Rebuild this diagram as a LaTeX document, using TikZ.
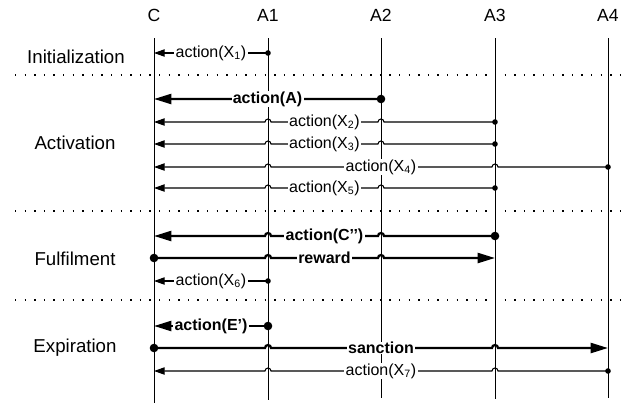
\documentclass[tikz,border=0pt]{standalone}
\usepackage{fontspec}
\setmainfont{Liberation Sans}
\usetikzlibrary{arrows.meta,calc}

\tikzset{
  actor/.style={font=\fontsize{13.2}{15}\selectfont},
  stage/.style={font=\fontsize{14}{16}\selectfont},
  lifeline/.style={line width=0.75pt},
  phase/.style={line width=1pt, dash pattern=on 1pt off 6.2pt},
  thinmsg/.style={line width=0.8pt, -{Triangle[length=8pt,width=5.5pt]}},
  thickmsg/.style={line width=1.7pt, -{Triangle[length=13pt,width=7.5pt]}},
  lbl/.style={fill=white, inner xsep=1pt, inner ysep=0.4pt, font=\fontsize{12}{13}\selectfont},
  boldlbl/.style={lbl, font=\fontsize{12}{13}\selectfont\bfseries},
}

\begin{document}
\begin{tikzpicture}[x=0.75pt,y=-0.75pt]
\useasboundingbox (0,0) rectangle (624,404);

% actors and phases
\node[actor] (C) at (154,15) {C};
\node[actor] (A1) at (268,15) {A1};
\node[actor] (A2) at (381,15) {A2};
\node[actor] (A3) at (495,15) {A3};
\node[actor] (A4) at (608,15) {A4};
\node[stage] (init) at (76,57) {Initialization};
\node[stage] (act) at (75,143) {Activation};
\node[stage] (ful) at (75,259) {Fulfilment};
\node[stage] (exp) at (75,348) {Expiration};

\foreach \y in {75,211,300} \draw[phase] (15,\y) -- (622,\y);
\foreach \a/\e in {C/403,A1/400,A2/398,A3/399,A4/398}
  \draw[lifeline] (\a |- 0,38) -- (\a |- 0,\e);

% message rows
\coordinate (m1) at (0,53);
\coordinate (mA) at (0,99);
\coordinate (m2) at (0,122);
\coordinate (m3) at (0,144);
\coordinate (m4) at (0,167);
\coordinate (m5) at (0,188);
\coordinate (mC) at (0,236);
\coordinate (mR) at (0,258);
\coordinate (m6) at (0,281);
\coordinate (mE) at (0,326);
\coordinate (mS) at (0,348);
\coordinate (m7) at (0,371);

% initialization
\draw[thinmsg] (A1 |- m1) -- (C |- m1);
\fill (A1 |- m1) circle (2.8);
\path (A1 |- m1) -- (C |- m1) node[lbl,midway] {action(X\textsubscript{1})};

% activation
\draw[thickmsg] (A2 |- mA) -- ($(A1 |- mA)+(3,0)$) arc[start angle=0,end angle=-180,radius=3] -- (C |- mA);
\fill (A2 |- mA) circle (4.3);
\path (A2 |- mA) -- (C |- mA) node[boldlbl,midway] {action(A)};

\foreach \m/\s/\n in {m2/A3/2,m3/A3/3,m5/A3/5} {
  \draw[thinmsg] (\s |- \m) \foreach \h in {A2,A1} { -- ($(\h |- \m)+(3,0)$) arc[start angle=0,end angle=-180,radius=3] } -- (C |- \m);
  \fill (\s |- \m) circle (2.8);
  \path (\s |- \m) -- (C |- \m) node[lbl,midway] {action(X\textsubscript{\n})};
}
\draw[thinmsg] (A4 |- m4) \foreach \h in {A3,A2,A1} { -- ($(\h |- m4)+(3,0)$) arc[start angle=0,end angle=-180,radius=3] } -- (C |- m4);
\fill (A4 |- m4) circle (2.8);
\path (A4 |- m4) -- (C |- m4) node[lbl,midway] {action(X\textsubscript{4})};

% fulfilment
\draw[thickmsg] (A3 |- mC) \foreach \h in {A2,A1} { -- ($(\h |- mC)+(3,0)$) arc[start angle=0,end angle=-180,radius=3] } -- (C |- mC);
\fill (A3 |- mC) circle (4.3);
\path (A3 |- mC) -- (C |- mC) node[boldlbl,midway] {action(C’’)};

\draw[thickmsg] (C |- mR) \foreach \h in {A1,A2} { -- ($(\h |- mR)+(-3,0)$) arc[start angle=180,end angle=360,radius=3] } -- (A3 |- mR);
\fill (C |- mR) circle (4.3);
\path (C |- mR) -- (A3 |- mR) node[boldlbl,midway] {reward};

\draw[thinmsg] (A1 |- m6) -- (C |- m6);
\fill (A1 |- m6) circle (2.8);
\path (A1 |- m6) -- (C |- m6) node[lbl,midway] {action(X\textsubscript{6})};

% expiration
\draw[thickmsg] (A1 |- mE) -- (C |- mE);
\fill (A1 |- mE) circle (4.3);
\path (A1 |- mE) -- (C |- mE) node[boldlbl,midway] {action(E’)};

\draw[thickmsg] (C |- mS) \foreach \h in {A1,A2,A3} { -- ($(\h |- mS)+(-3,0)$) arc[start angle=180,end angle=360,radius=3] } -- (A4 |- mS);
\fill (C |- mS) circle (4.3);
\path (C |- mS) -- (A4 |- mS) node[boldlbl,midway] {sanction};

\draw[thinmsg] (A4 |- m7) \foreach \h in {A3,A2,A1} { -- ($(\h |- m7)+(3,0)$) arc[start angle=0,end angle=-180,radius=3] } -- (C |- m7);
\fill (A4 |- m7) circle (2.8);
\path (A4 |- m7) -- (C |- m7) node[lbl,midway] {action(X\textsubscript{7})};
\end{tikzpicture}
\end{document}
